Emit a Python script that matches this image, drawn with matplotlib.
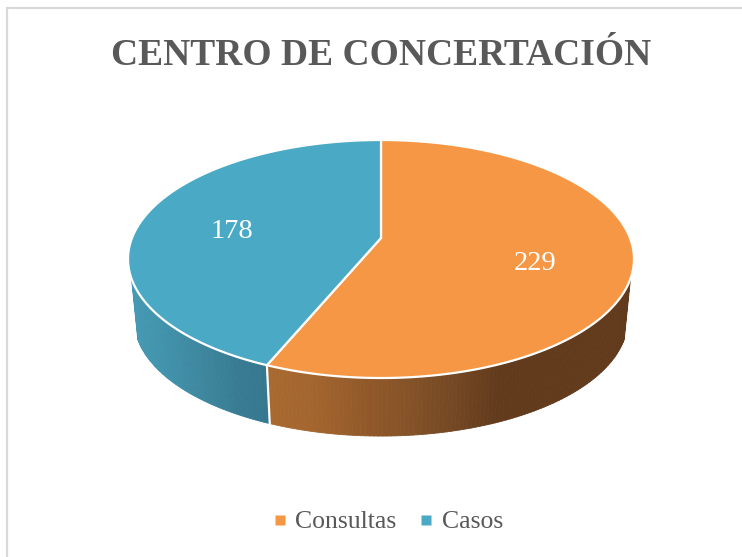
import matplotlib
matplotlib.use('Agg')
import matplotlib.pyplot as plt
from matplotlib.collections import PolyCollection
from matplotlib.lines import Line2D
from matplotlib.patches import Polygon, Rectangle
import numpy as np

categories = ['Consultas', 'Casos']
values = [229, 178]
title = 'CENTRO DE CONCERTACIÓN'

orange = '#f59745'
blue = '#4aaac5'
text_gray = '#595959'
# side colours from left to right of the cylinder
side_orange = ['#a96a31', '#a3652e', '#935a2a', '#855328', '#744824', '#623a1c']
side_blue = ['#4699b3', '#4192ab', '#3f8aa3', '#3b8299', '#377a91', '#357890']

CX, CY = 381, 238
A, B, K = 249.0, 115.3, 0.1765
SIDE_SCALE, SIDE_SHIFT = 0.975, 67.5
# wall only shows below this point of the rim
WALL_COS = -0.327


def top_xy(theta):
    # pie plane in perspective, theta clockwise from 12 o'clock
    u, v = np.sin(theta), np.cos(theta)
    w = 1 + K * v
    return CX + A * u / w, CY - B * v / w


def bottom_xy(theta):
    x, y = top_xy(theta)
    return CX + (x - CX) * SIDE_SCALE, y * SIDE_SCALE + SIDE_SHIFT


def side_color(x, stops, x_lo, x_hi):
    rgb = np.array([matplotlib.colors.to_rgb(c) for c in stops])
    t = np.clip((x - x_lo) / (x_hi - x_lo), 0, 1) * (len(stops) - 1)
    i = min(int(t), len(stops) - 2)
    return rgb[i] + (rgb[i + 1] - rgb[i]) * (t - i)


fractions = np.array(values) / sum(values)
edges = np.concatenate([[0], np.cumsum(fractions)]) * 2 * np.pi

fig = plt.figure(figsize=(7.42, 5.57), dpi=100)
ax = fig.add_axes([0, 0, 1, 1])
ax.set_xlim(0, 742)
ax.set_ylim(557, 0)
ax.axis('off')
plt.rcParams['font.family'] = ['Liberation Serif', 'DejaVu Serif']

# chart frame, only top and left are in the crop
ax.add_patch(Rectangle((7, 8), 800, 600, fc='white', ec='#d9d9d9', lw=1.6))

# side wall
for start, stop, stops, (x_lo, x_hi) in zip(edges[:-1], edges[1:], [side_orange, side_blue],
                                            [(268, 500), (134, 268)]):
    angles = np.linspace(start, stop, 240)
    quads = []
    colors = []
    for a0, a1 in zip(angles[:-1], angles[1:]):
        if np.cos((a0 + a1) / 2) > WALL_COS:
            continue
        quads.append([top_xy(a0), top_xy(a1), bottom_xy(a1), bottom_xy(a0)])
        colors.append(side_color(top_xy((a0 + a1) / 2)[0], stops, x_lo, x_hi))
    ax.add_collection(PolyCollection(quads, facecolors=colors, edgecolors=colors, lw=0.6, zorder=2))

# seams between the side walls
for edge in edges[1:-1]:
    p0, p1 = top_xy(edge), bottom_xy(edge)
    ax.plot([p0[0], p1[0]], [p0[1], p1[1]], color='white', lw=1.6, zorder=3)

# top face
for start, stop, color in zip(edges[:-1], edges[1:], [orange, blue]):
    angles = np.linspace(start, stop, 300)
    xs, ys = top_xy(angles)
    pts = np.column_stack([np.r_[CX, xs], np.r_[CY, ys]])
    ax.add_patch(Polygon(pts, closed=True, fc=color, ec='white', lw=1.6, joinstyle='miter', zorder=4))

ax.text(535, 264, str(values[0]), color='white', fontsize=20.5, ha='center', va='center', zorder=5)
ax.text(232, 231, str(values[1]), color='white', fontsize=20.5, ha='center', va='center', zorder=5)

ax.text(381, 65, title, color=text_gray, fontsize=27, fontweight='bold', ha='center', va='baseline')

handles = [Line2D([], [], ls='', marker='s', ms=7.5, mfc=c, mec='none') for c in [orange, blue]]
ax.legend(handles, categories, loc='center', bbox_to_anchor=(385, 522), bbox_transform=ax.transData,
          ncol=2, frameon=False, fontsize=18.5, labelcolor=text_gray, handletextpad=0.1,
          columnspacing=0.67, handlelength=1.0, borderpad=0, borderaxespad=0)

fig.savefig('out.png', dpi=100)
